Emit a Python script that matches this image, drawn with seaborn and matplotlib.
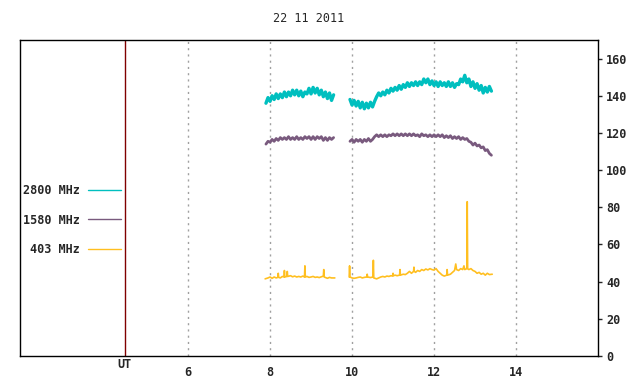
import numpy as np
import pandas as pd
import matplotlib
matplotlib.use("Agg")
import matplotlib.pyplot as plt
import matplotlib.transforms as mtransforms
import seaborn as sns

title = "22 11 2011"
bands = ["2800 MHz", "1580 MHz", "403 MHz"]
band_colors = ["#00bfbf", "#795a7e", "#ffbf20"]
band_widths = [2.4, 2.0, 1.2]
x_ticks = [6, 8, 10, 12, 14]
y_ticks = [0, 20, 40, 60, 80, 100, 120, 140, 160]
ut_pos = 4.46

# regular sampling grids (hours UT)
t_a = np.round(np.arange(7.90, 9.551, 0.05), 2)
t_b = np.round(np.arange(9.95, 13.401, 0.05), 2)

v2800_a = [136, 139, 137, 140, 138, 141, 138.5, 141, 139, 142, 139.5, 142, 140, 143,
           140.5, 143, 140, 142.5, 139.5, 142, 141, 144, 141, 144.5, 141.5, 144, 140.5,
           143, 139.5, 142, 138.5, 141.5, 137.5, 140.5]
v2800_b = [138, 135, 137.5, 134.5, 137, 133.5, 136.5, 133, 136, 133.5, 136.5, 134, 137,
           139.5, 141.5, 140, 142, 140.5, 143, 141.5, 144, 142.5, 144.5, 143, 145.5, 143.5,
           146, 144.5, 147, 145, 147, 145.5, 147.5, 145.5, 147.5, 146, 149, 147, 149, 146,
           148, 145.5, 147.5, 145, 147.5, 145.5, 147, 145, 147.5, 145, 147, 144.5, 146.5,
           146, 149, 147.5, 151, 147, 149, 145, 147.5, 144, 146.5, 143, 145.5, 141.5,
           144.5, 142, 145, 142.5]

v1580_a = [114, 115.5, 115, 116.5, 115.5, 117, 116, 117.5, 116.5, 117.5, 116.5, 118, 116.5,
           117.5, 116.5, 118, 116.5, 117.5, 116.5, 118, 117, 118, 116.5, 118, 116.5, 118,
           117, 118, 116, 117.5, 116, 117.5, 116.5, 117.5]
v1580_b = [115.5, 116.5, 115, 116.5, 115.5, 116.5, 115, 116.5, 115.5, 117, 115.5, 116.5,
           118, 119, 118, 119, 118, 119, 118, 119, 118.5, 119.5, 118.5, 119.5, 118.5, 119.5,
           118.5, 119.5, 118.5, 119.5, 118.5, 119.5, 118.5, 119, 118, 119.5, 118.5, 119,
           118, 119, 118, 119, 118, 119, 118, 119, 117.5, 118.5, 117.5, 118.5, 117, 118,
           117, 118, 116.5, 117.5, 116.5, 117, 115.5, 115, 113.5, 114.5, 113, 113.5, 112,
           112.5, 110.5, 111, 109, 108]

t403_a = [7.88, 7.95, 8.00, 8.05, 8.10, 8.15, 8.19, 8.20, 8.21, 8.25, 8.30, 8.34, 8.35, 8.36,
          8.41, 8.42, 8.43, 8.50, 8.55, 8.60, 8.65, 8.70, 8.75, 8.80, 8.84, 8.85, 8.86, 8.90,
          8.95, 9.00, 9.05, 9.10, 9.15, 9.20, 9.25, 9.30, 9.31, 9.32, 9.40, 9.45, 9.50, 9.58]
v403_a = [41.5, 42, 42.5, 41.8, 42.5, 42, 42.3, 44.5, 42.3, 42, 42.8, 42.5, 46, 42.5, 42.8,
          45.5, 42.8, 43.2, 42.6, 43, 42.5, 42.8, 42.5, 43, 42.5, 48.5, 42.5, 42.8, 42.3,
          42.5, 42.8, 42.3, 42.5, 42.2, 42.6, 43, 46.5, 42.5, 41.8, 42.3, 42, 42]
t403_b = [9.93, 9.94, 9.95, 10.00, 10.05, 10.10, 10.15, 10.20, 10.25, 10.30,
          10.36, 10.37, 10.38, 10.45, 10.51, 10.52, 10.53, 10.60, 10.65, 10.70,
          10.75, 10.80, 10.85, 10.90, 10.95, 10.99, 11.00, 11.01, 11.05, 11.10,
          11.16, 11.17, 11.18, 11.25, 11.30, 11.35, 11.40, 11.45, 11.50, 11.51,
          11.52, 11.55, 11.60, 11.65, 11.70, 11.75, 11.80, 11.85, 11.90, 11.95,
          12.00, 12.05, 12.10, 12.15, 12.20, 12.25, 12.31, 12.32, 12.33, 12.40,
          12.45, 12.50, 12.53, 12.55, 12.60, 12.65, 12.70, 12.73, 12.75, 12.80,
          12.81, 12.82, 12.85, 12.90, 12.95, 13.00, 13.05, 13.10, 13.15, 13.20,
          13.25, 13.30, 13.35, 13.42]
v403_b = [42.5, 48.5, 42.5, 42, 41.8, 42, 42.3, 42.5, 42, 42.3,
          42.5, 44, 42.5, 42.2, 42.5, 51.5, 42, 41.5, 42, 42.5,
          42.8, 42.5, 43, 42.8, 43.2, 43, 44.5, 43.2, 43.5, 43.2,
          43.5, 46.5, 43.5, 44, 43.8, 44.5, 45.5, 44.5, 45.5, 47.8,
          45.5, 45, 46, 45.5, 46.5, 46, 46.8, 46.3, 47, 46.5,
          46.2, 47, 45.5, 44.5, 43.5, 43, 43.5, 46.5, 43.5, 44,
          45, 46, 49.5, 46.5, 46, 47, 46.5, 48.5, 46.5, 47,
          83, 47, 46.5, 47, 46, 45.5, 44.5, 45, 44, 44.5,
          43.5, 44.5, 43.8, 44]

frames = []
def add(t, v, band, seg):
    frames.append(pd.DataFrame({"t": t, "v": v, "band": band, "seg": seg}))

add(t_a, v2800_a, bands[0], "a")
add(t_b, v2800_b, bands[0], "b")
add(t_a, v1580_a, bands[1], "a")
add(t_b, v1580_b, bands[1], "b")
add(t403_a, v403_a, bands[2], "a")
add(t403_b, v403_b, bands[2], "b")
df = pd.concat(frames, ignore_index=True)

sns.set_style("white")
plt.rcParams["font.family"] = ["DejaVu Sans Mono", "DejaVu Sans"]

fig = plt.figure(figsize=(6.4, 3.84), dpi=100)
ax = fig.add_axes([20 / 640, 1 - 356 / 384, 578 / 640, 316 / 384])

sns.lineplot(data=df, x="t", y="v", hue="band", size="band", units="seg", estimator=None,
             hue_order=bands, palette=band_colors, size_order=bands,
             sizes=dict(zip(bands, band_widths)), sort=False,
             legend=False, ax=ax)

ax.set_xlim(1.9, 16.0)
ax.set_ylim(0, 170)

for xt in x_ticks:
    ax.axvline(xt, color="#a0a0a0", linestyle=(0, (1.5, 3)), linewidth=1, zorder=0)
ax.axvline(ut_pos, color="#800000", linewidth=1, zorder=1)

ax.set_xticks(x_ticks)
ax.set_xticklabels([str(x) for x in x_ticks], fontsize=8.5, fontweight="bold")
ax.tick_params(axis="x", length=0, pad=7)
ax.yaxis.tick_right()
ax.set_yticks(y_ticks)
ax.set_yticklabels([str(y) for y in y_ticks], fontsize=8.5, fontweight="bold")
ax.tick_params(axis="y", direction="out", length=3, width=1, pad=3, right=True, left=False)
ax.set_xlabel("")
ax.set_ylabel("")

trans = mtransforms.blended_transform_factory(ax.transData, ax.transAxes)
ax.text(ut_pos, -0.028, "UT", transform=trans, ha="center", va="center",
        fontsize=8.5, fontweight="bold")

for s in ax.spines.values():
    s.set_color("black")
    s.set_linewidth(1)

handles = [plt.Line2D([], [], color=c, linewidth=1) for c in band_colors]
leg = ax.legend(handles, bands, loc="center right", bbox_to_anchor=(101 / 578, 0.43),
                frameon=False, markerfirst=False, handlelength=2.8, handletextpad=0.7,
                labelspacing=1.4, borderpad=0, borderaxespad=0,
                prop={"size": 8.5, "weight": "bold", "family": "DejaVu Sans Mono"})

fig.text(309 / 640, 1 - 19 / 384, title, ha="center", va="center", fontsize=8.5)

fig.savefig("out.png", dpi=100, facecolor="white")
